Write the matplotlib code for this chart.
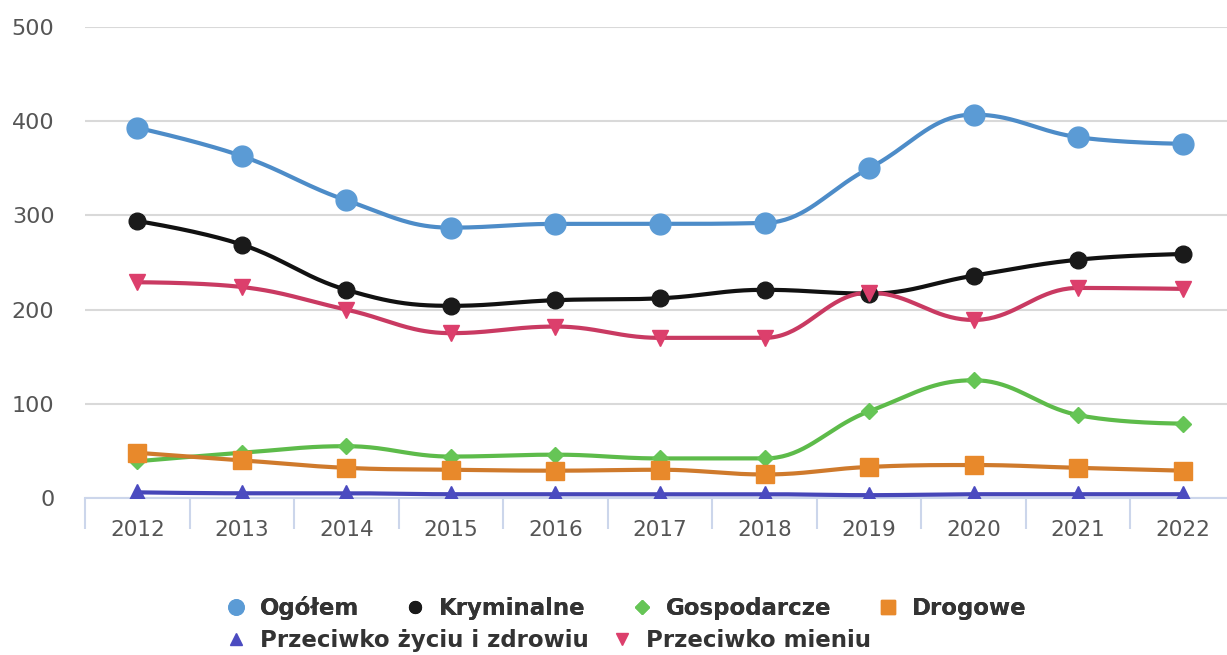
import numpy as np
import matplotlib.pyplot as plt
from matplotlib.lines import Line2D

years = ['2012', '2013', '2014', '2015', '2016', '2017', '2018', '2019', '2020', '2021', '2022']

ogolem = [393, 363, 316, 287, 291, 291, 292, 350, 407, 383, 376]
kryminalne = [294, 269, 221, 204, 210, 212, 221, 217, 236, 253, 259]
gospodarcze = [39, 48, 55, 44, 46, 42, 42, 92, 125, 88, 79]
drogowe = [48, 40, 32, 30, 29, 30, 25, 33, 35, 32, 29]
zycie = [6, 5, 5, 4, 4, 4, 4, 3, 4, 4, 4]
mienie = [229, 224, 200, 175, 182, 170, 170, 218, 189, 223, 222]


def spline(xs, ys, n=40):
    # highcharts-like spline: bezier between points, smoothing 1.5
    xs = np.asarray(xs, float)
    ys = np.asarray(ys, float)
    sm, den = 1.5, 2.5
    m = len(xs)
    lc = [None] * m
    rc = [None] * m
    for i in range(m):
        if i == 0 or i == m - 1:
            lc[i] = (xs[i], ys[i])
            rc[i] = (xs[i], ys[i])
            continue
        lx = (sm * xs[i] + xs[i - 1]) / den
        ly = (sm * ys[i] + ys[i - 1]) / den
        rx = (sm * xs[i] + xs[i + 1]) / den
        ry = (sm * ys[i] + ys[i + 1]) / den
        corr = (ry - ly) * (rx - xs[i]) / (rx - lx) + ys[i] - ry
        ly += corr
        ry += corr
        if ly > ys[i - 1] and ly > ys[i]:
            ly = max(ys[i - 1], ys[i])
            ry = 2 * ys[i] - ly
        elif ly < ys[i - 1] and ly < ys[i]:
            ly = min(ys[i - 1], ys[i])
            ry = 2 * ys[i] - ly
        if ry > ys[i + 1] and ry > ys[i]:
            ry = max(ys[i + 1], ys[i])
            ly = 2 * ys[i] - ry
        elif ry < ys[i + 1] and ry < ys[i]:
            ry = min(ys[i + 1], ys[i])
            ly = 2 * ys[i] - ry
        lc[i] = (lx, ly)
        rc[i] = (rx, ry)
    t = np.linspace(0, 1, n)
    px, py = [], []
    for i in range(m - 1):
        p0 = (xs[i], ys[i])
        p1 = rc[i]
        p2 = lc[i + 1]
        p3 = (xs[i + 1], ys[i + 1])
        for k in range(2):
            c = ((1 - t) ** 3 * p0[k] + 3 * (1 - t) ** 2 * t * p1[k]
                 + 3 * (1 - t) * t ** 2 * p2[k] + t ** 3 * p3[k])
            (px if k == 0 else py).extend(c)
    return px, py


fig = plt.figure(figsize=(12.27, 6.55), dpi=100)
ax = fig.add_axes([85 / 1227, 1 - 498 / 655, 1150 / 1227, 471 / 655])

x = np.arange(len(years))

# name, values, line colour, marker colour, marker, size, legend size
series = [
    ('Ogółem', ogolem, '#4d8cc8', '#5b9bd5', 'o', 15, 11),
    ('Kryminalne', kryminalne, '#111111', '#1a1a1a', 'o', 12, 8.5),
    ('Gospodarcze', gospodarcze, '#5dbb4a', '#66c556', 'D', 8, 7),
    ('Drogowe', drogowe, '#cf7a2c', '#e8892b', 's', 13, 9.5),
    ('Przeciwko życiu i zdrowiu', zycie, '#4646b8', '#4b4bc0', '^', 12, 9),
    ('Przeciwko mieniu', mienie, '#c93a62', '#dc3f6c', 'v', 12, 9),
]

handles = []
for name, vals, lc_, mc, mk, ms, lms in series:
    sx, sy = spline(x, vals)
    ax.plot(sx, sy, color=lc_, lw=3, solid_capstyle='round', zorder=3)
    ax.plot(x, vals, ls='none', marker=mk, ms=ms, color=mc,
            markeredgecolor=mc, zorder=4)
    handles.append(Line2D([], [], ls='none', marker=mk, ms=lms,
                          color=mc, label=name))

ax.set_xlim(-0.5, 10.5)
ax.set_ylim(0, 500)
ax.set_yticks([0, 100, 200, 300, 400, 500])
ax.set_xticks(x)
ax.set_xticklabels(years)
ax.set_xticks(np.arange(-0.5, 11, 1), minor=True)
ax.yaxis.grid(True, color='#d9d9d9', lw=1.5)
ax.set_axisbelow(True)
for s in ['top', 'right', 'left']:
    ax.spines[s].set_visible(False)
ax.spines['bottom'].set_color('#ccd6eb')
ax.spines['bottom'].set_linewidth(1.5)
ax.tick_params(axis='y', length=0, pad=22, labelsize=16, labelcolor='#555555')
ax.tick_params(axis='x', which='major', length=0, pad=16, labelsize=15.5,
               labelcolor='#555555')
ax.tick_params(axis='x', which='minor', length=22, width=1.5, color='#ccd6eb')

leg_kw = dict(loc='upper left', frameon=False,
              prop={'weight': 'bold', 'size': 16.5}, handletextpad=0.5,
              handlelength=1.1, borderaxespad=0, labelcolor='#333333')
leg1 = fig.legend(handles=handles[:4], ncol=4, columnspacing=1.9,
                  bbox_to_anchor=(214 / 1227, 1 - 587 / 655), **leg_kw)
fig.legend(handles=handles[4:], ncol=2, columnspacing=0.9,
           bbox_to_anchor=(214 / 1227, 1 - 620 / 655), **leg_kw)
fig.add_artist(leg1)

fig.savefig('out.png', dpi=100, facecolor='white')
